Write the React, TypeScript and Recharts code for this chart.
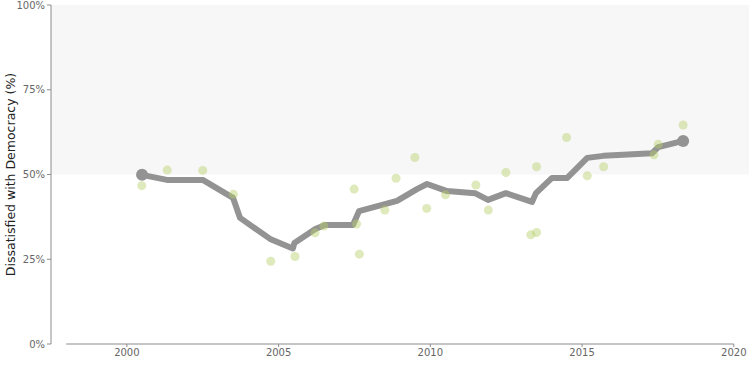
import { ComposedChart, Line, Scatter, XAxis, YAxis, ReferenceArea, ReferenceLine } from 'recharts';

// Survey results (individual polls)
const surveyYears = [
  2000.49, 2001.33, 2002.5, 2003.51, 2004.74, 2005.54, 2006.2, 2006.49, 2007.57, 2007.49,
  2007.66, 2008.5, 2008.87, 2009.49, 2009.88, 2010.5, 2011.5, 2011.91, 2012.49, 2013.31,
  2013.5, 2013.5, 2014.49, 2015.17, 2015.71, 2017.37, 2017.51, 2018.33,
];
const surveyValues = [
  46.7, 51.3, 51.2, 44.2, 24.4, 25.8, 32.8, 34.8, 35.4, 45.7,
  26.5, 39.5, 48.9, 55.0, 40.0, 44.0, 46.9, 39.5, 50.6, 32.2,
  32.9, 52.3, 60.9, 49.6, 52.3, 55.8, 58.9, 64.6,
];

// Smoothed trend
const trendYears = [
  2000.5, 2001.32, 2002.5, 2003.5, 2003.73, 2004.72, 2005.47, 2005.52, 2006.21, 2006.53,
  2007.45, 2007.65, 2008.9, 2009.56, 2009.89, 2010.55, 2011.47, 2011.9, 2012.49, 2013.35,
  2013.48, 2014.01, 2014.51, 2015.17, 2015.7, 2017.31, 2017.51, 2018.33,
];
const trendValues = [
  49.9, 48.4, 48.4, 43.1, 37.2, 31.0, 28.2, 29.8, 33.9, 35.1,
  35.1, 39.2, 42.2, 45.7, 47.2, 45.1, 44.5, 42.5, 44.5, 41.9,
  44.5, 49.0, 49.0, 54.9, 55.5, 56.3, 58.1, 59.9,
];

const xTicks = [2000, 2005, 2010, 2015, 2020];
const yTicks = [0, 25, 50, 75, 100];
const yTitle = 'Dissatisfied with Democracy (%)';

const surveyData = surveyYears.map((year, i) => ({ year, value: surveyValues[i] }));
const trendData = trendYears.map((year, i) => ({ year, value: trendValues[i] }));
const endPoints = [trendData[0], trendData[trendData.length - 1]];

const FONT = '"DejaVu Sans", sans-serif';
const AXIS = '#8c8c8c';

// rotated y title, centred on the plot height
function YTitle(props: any) {
  const vb = props.viewBox || {};
  const cx = 10;
  const cy = (vb.y ?? 5) + (vb.height ?? 339) / 2;
  return (
    <text
      x={cx}
      y={cy}
      transform={`rotate(-90 ${cx} ${cy})`}
      textAnchor="middle"
      dominantBaseline="central"
      fontSize={12.5}
      fill="#222"
      fontFamily={FONT}
    >
      {yTitle}
    </text>
  );
}

export default function App() {
  return (
    <div style={{ position: 'absolute', left: 0, top: 0 }}>
      <ComposedChart width={754} height={377} margin={{ top: 5, right: 5, bottom: 8, left: 0 }}>
        <ReferenceArea x1={1997.5} x2={2020.5} y1={50} y2={100} fill="#f7f7f7" fillOpacity={1} stroke="none" />
        <XAxis
          type="number"
          dataKey="year"
          domain={[1997.5, 2020.5]}
          ticks={xTicks}
          allowDataOverflow
          axisLine={false}
          tickSize={3}
          tickLine={{ stroke: AXIS }}
          tick={{ fontSize: 10, fill: '#666', fontFamily: FONT }}
          height={25}
        />
        <YAxis
          type="number"
          domain={[0, 100]}
          ticks={yTicks}
          width={51}
          tickSize={4}
          tickFormatter={(v) => `${v}%`}
          axisLine={{ stroke: AXIS }}
          tickLine={{ stroke: AXIS }}
          tick={{ fontSize: 10, fill: '#666', fontFamily: FONT }}
          label={{ content: (p: any) => <YTitle {...p} /> }}
        />
        <ReferenceLine
          segment={[{ x: 1998, y: 0 }, { x: 2020, y: 0 }]}
          stroke={AXIS}
          ifOverflow="visible"
        />
        <Scatter
          data={surveyData}
          dataKey="value"
          isAnimationActive={false}
          shape={(p: any) => <circle cx={p.cx} cy={p.cy} r={4.5} fill="#b5cf6b" fillOpacity={0.45} />}
        />
        <Line
          data={trendData}
          dataKey="value"
          type="linear"
          stroke="#939393"
          strokeWidth={6}
          strokeLinejoin="round"
          dot={false}
          activeDot={false}
          isAnimationActive={false}
        />
        <Scatter
          data={endPoints}
          dataKey="value"
          isAnimationActive={false}
          shape={(p: any) => <circle cx={p.cx} cy={p.cy} r={6} fill="#939393" />}
        />
      </ComposedChart>
    </div>
  );
}
